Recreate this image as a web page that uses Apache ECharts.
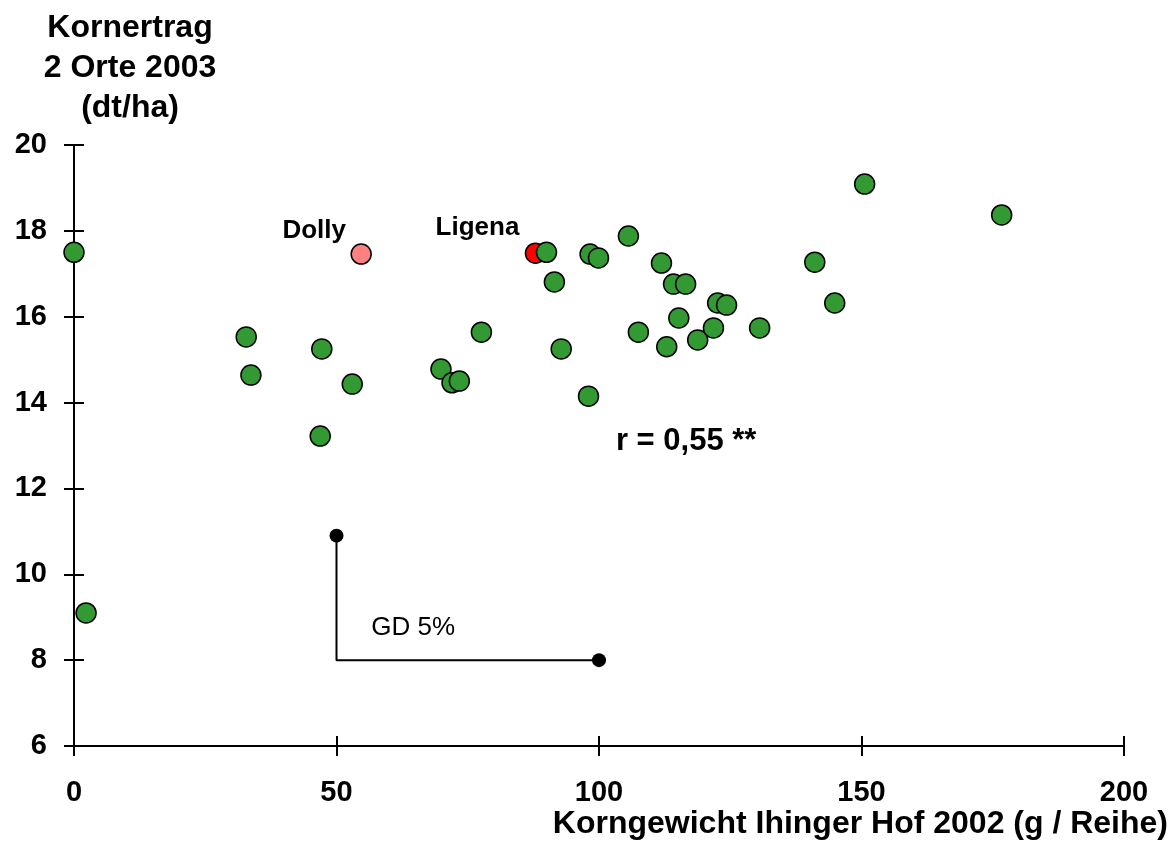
<!DOCTYPE html>
<html><head><meta charset="utf-8">
<script src="https://cdn.jsdelivr.net/npm/echarts@6/dist/echarts.min.js"></script>
<style>html,body{margin:0;padding:0;background:#fff}#c{width:1176px;height:852px}</style>
</head><body><div id="c"></div>
<script>
// Korngewicht Ihinger Hof 2002 (g / Reihe) vs Kornertrag 2 Orte 2003 (dt/ha)
const sortenX = [0, 2.3, 32.8, 33.7, 47.2, 46.9, 53.0, 69.9, 72.0, 73.4, 77.6, 90.0, 91.5, 92.8, 98.3, 99.9, 98.0, 105.6, 107.5, 111.9, 112.9, 114.2, 116.5, 115.2, 118.8, 121.8, 122.6, 124.3, 130.6, 141.1, 144.9, 150.6, 176.7];
const sortenY = [17.5, 9.1, 15.53, 14.64, 15.25, 13.22, 14.43, 14.78, 14.46, 14.5, 15.64, 17.5, 16.81, 15.25, 17.46, 17.37, 14.15, 17.88, 15.64, 17.25, 15.3, 16.76, 16.76, 15.97, 15.46, 15.74, 16.32, 16.27, 15.74, 17.27, 16.32, 19.09, 18.37];
const dollyX = [54.7], dollyY = [17.46];
const ligenaX = [87.9], ligenaY = [17.48];
const gdX = [50, 50, 100], gdY = [10.9, 8, 8];
const xTicks = [0, 50, 100, 150, 200];
const yTicks = [6, 8, 10, 12, 14, 16, 18, 20];
const notes = ['r = 0,55 **', 'GD 5%'];
const notesX = [116.6, 64.6], notesY = [13.1, 8.75];

const F = 'Liberation Sans, Arial, sans-serif';
const zip = (a, b) => a.map((v, i) => [v, b[i]]);
const chart = echarts.init(document.getElementById('c'), null, {renderer: 'canvas'});
const axisLine = {show: true, onZero: false, lineStyle: {color: '#000', width: 2}};
chart.setOption({
  animation: false,
  backgroundColor: '#fff',
  grid: {left: 74, right: 52, top: 145, bottom: 106, containLabel: false, outerBoundsMode: 'none'},
  xAxis: [{
    type: 'value', min: xTicks[0], max: xTicks[xTicks.length - 1], interval: 50,
    position: 'bottom',
    axisLine: axisLine,
    axisTick: {show: true, inside: false, length: 10, lineStyle: {color: '#000', width: 2}},
    axisLabel: {color: '#000', fontFamily: F, fontWeight: 'bold', fontSize: 29, margin: 32},
    splitLine: {show: false},
    name: 'Korngewicht Ihinger Hof 2002 (g / Reihe)',
    nameLocation: 'end', nameGap: 44,
    nameTextStyle: {color: '#000', fontFamily: F, fontWeight: 'bold', fontSize: 32, align: 'right', verticalAlign: 'top', padding: [62, 0, 0, 0]}
  }, {
    type: 'value', min: xTicks[0], max: xTicks[xTicks.length - 1], interval: 50,
    position: 'bottom',
    axisLine: axisLine,
    axisTick: {show: true, inside: true, length: 10, lineStyle: {color: '#000', width: 2}},
    axisLabel: {show: false}, splitLine: {show: false}
  }],
  yAxis: [{
    type: 'value', min: yTicks[0], max: yTicks[yTicks.length - 1], interval: 2,
    position: 'left',
    axisLine: axisLine,
    axisTick: {show: true, inside: false, length: 10, lineStyle: {color: '#000', width: 2}},
    axisLabel: {color: '#000', fontFamily: F, fontWeight: 'bold', fontSize: 29, margin: 27},
    splitLine: {show: false},
    name: 'Kornertrag\n2 Orte 2003\n(dt/ha)',
    nameLocation: 'end', nameGap: 17,
    nameTextStyle: {color: '#000', fontFamily: F, fontWeight: 'bold', fontSize: 32, lineHeight: 40, align: 'center', padding: [0, 0, 0, 112]}
  }, {
    type: 'value', min: yTicks[0], max: yTicks[yTicks.length - 1], interval: 2,
    position: 'left',
    axisLine: axisLine,
    axisTick: {show: true, inside: true, length: 10, lineStyle: {color: '#000', width: 2}},
    axisLabel: {show: false}, splitLine: {show: false}
  }],
  series: [
    {
      type: 'line', data: zip(gdX, gdY).map((p, i) => ({value: p, symbol: (i === 1 ? 'none' : 'circle')})),
      symbolSize: 14, showSymbol: true,
      lineStyle: {color: '#000', width: 2}, itemStyle: {color: '#000'}, z: 2
    },
    {
      type: 'scatter', data: zip(sortenX, sortenY), symbolSize: 20,
      itemStyle: {color: '#339933', borderColor: '#000', borderWidth: 1.5, opacity: 1}, z: 3
    },
    {
      type: 'scatter', data: zip(dollyX, dollyY), symbolSize: 20,
      itemStyle: {color: '#FF8080', borderColor: '#000', borderWidth: 1.5, opacity: 1}, z: 3,
      label: {show: true, formatter: 'Dolly', position: 'top', distance: -1, offset: [-47, 0], color: '#000', fontFamily: F, fontWeight: 'bold', fontSize: 26}
    },
    {
      type: 'scatter', data: zip(ligenaX, ligenaY), symbolSize: 20,
      itemStyle: {color: '#FF0000', borderColor: '#000', borderWidth: 1.5, opacity: 1}, z: 2,
      label: {show: true, formatter: 'Ligena', position: 'top', distance: 2, offset: [-58, 0], color: '#000', fontFamily: F, fontWeight: 'bold', fontSize: 26}
    },
    {
      type: 'scatter', symbolSize: 1, silent: true, z: 4,
      itemStyle: {color: 'rgba(0,0,0,0)'},
      label: {show: true, position: 'inside', color: '#000', opacity: 1, textBorderWidth: 0},
      data: notes.map((t, i) => ({value: [notesX[i], notesY[i]], name: t,
        label: {show: true, position: 'inside', formatter: t, color: '#000', opacity: 1, fontFamily: F,
          fontWeight: i === 0 ? 'bold' : 'normal', fontSize: i === 0 ? 31 : 26}}))
    }
  ]
});
</script></body></html>
